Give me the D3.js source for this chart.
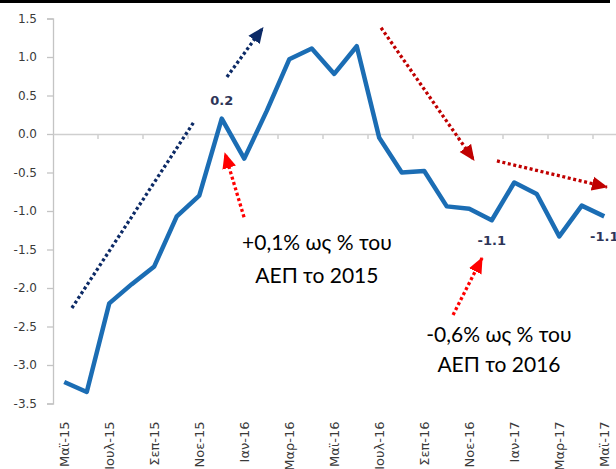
<!DOCTYPE html>
<html>
<head>
<meta charset="utf-8">
<script src="https://cdn.jsdelivr.net/npm/d3@7"></script>
<style>
  body { margin: 0; background: #fff; }
</style>
</head>
<body>
<div id="chart"></div>
<script>
// monthly categories
var months = ["Μαϊ-15","Ιουν-15","Ιουλ-15","Αυγ-15","Σεπ-15","Οκτ-15","Νοε-15","Δεκ-15",
              "Ιαν-16","Φεβ-16","Μαρ-16","Απρ-16","Μαϊ-16","Ιουν-16","Ιουλ-16","Αυγ-16",
              "Σεπ-16","Οκτ-16","Νοε-16","Δεκ-16","Ιαν-17","Φεβ-17","Μαρ-17","Απρ-17","Μαϊ-17"];

// series values (% of GDP)
var values = [-3.22,-3.35,-2.2,-1.95,-1.72,-1.07,-0.8,0.2,
              -0.32,0.3,0.97,1.11,0.78,1.14,-0.05,-0.5,
              -0.48,-0.94,-0.97,-1.12,-0.63,-0.78,-1.33,-0.93,-1.07];

// y tick values
var yTicks = [-3.5,-3.0,-2.5,-2.0,-1.5,-1.0,-0.5,0.0,0.5,1.0,1.5];

// x tick labels (every second month)
var xTickLabels = months.filter(function(d, i) { return i % 2 == 0; });

// data labels
var labelIndex = [7, 19, 24];
var labelText = ["0.2", "-1.1", "-1.1"];

var width = 616, height = 469;

var svg = d3.select("#chart")
  .append("svg")
    .attr("width", width)
    .attr("height", height)
    .style("font-family", "'DejaVu Sans', sans-serif");

// scales
var x = d3.scaleBand()
  .domain(months)
  .range([53, 615.5]);
// month index -> px, for the annotation shapes
var xi = d3.scaleLinear()
  .domain([-0.5, months.length - 0.5])
  .range([53, 615.5]);
var y = d3.scaleLinear()
  .domain([-3.5, 1.5])
  .range([403.5, 18.5]);

// top black rule
svg.append("line")
  .attr("x1", 0).attr("x2", 610)
  .attr("y1", 1.5).attr("y2", 1.5)
  .attr("stroke", "#000")
  .attr("stroke-width", 3);

// y axis
var yAxis = svg.append("g")
  .attr("transform", "translate(53,0)")
  .call(d3.axisLeft(y)
    .tickValues(yTicks)
    .tickSize(6)
    .tickPadding(10)
    .tickFormat(function(d) { return d.toFixed(1); }));
yAxis.selectAll("path, line").attr("stroke", "#c4c4c4").attr("stroke-width", 1.3);
yAxis.selectAll("text").attr("fill", "#3a3a3a").style("font-size", "12px")
  .style("font-family", "'DejaVu Sans', sans-serif");

// zero line with tick marks at category boundaries
var zeroAxis = svg.append("g")
  .attr("transform", "translate(0," + y(0) + ")")
  .call(d3.axisBottom(x)
    .tickValues(months.filter(function(d, i) { return i > 0 && i % 2 == 0; }))
    .tickSize(5)
    .tickSizeOuter(0)
    .tickFormat(""));
zeroAxis.selectAll(".tick").attr("transform", function(d) { return "translate(" + x(d) + ",0)"; });
zeroAxis.selectAll("path, line").attr("stroke", "#cfcfcf").attr("stroke-width", 1.5);

// x labels at the bottom
var xAxis = svg.append("g")
  .attr("transform", "translate(0," + y(-3.5) + ")")
  .call(d3.axisBottom(x)
    .tickValues(xTickLabels)
    .tickSize(0));
xAxis.select(".domain").remove();
xAxis.selectAll("text")
  .attr("transform", "rotate(-90)")
  .attr("text-anchor", "end")
  .attr("x", -18)
  .attr("y", 0)
  .attr("dy", "0.35em")
  .attr("fill", "#3a3a3a")
  .style("font-size", "13px")
  .style("font-family", "'DejaVu Sans', sans-serif");

// the series line
var line = d3.line()
  .x(function(d, i) { return x(months[i]) + x.bandwidth() / 2; })
  .y(function(d) { return y(d); });

svg.append("path")
  .datum(values)
  .attr("d", line)
  .attr("fill", "none")
  .attr("stroke", "#1b6db4")
  .attr("stroke-width", 4.5)
  .attr("stroke-linejoin", "round");

// data labels
svg.selectAll(".vlabel")
  .data(labelIndex)
  .enter()
  .append("text")
    .attr("class", "vlabel")
    .attr("x", function(d) { return x(months[d]) + x.bandwidth() / 2; })
    .attr("y", function(d) { return values[d] > 0 ? y(values[d]) - 14 : y(values[d]) + 25; })
    .attr("text-anchor", "middle")
    .attr("fill", "#2e3558")
    .style("font-size", "13px")
    .style("font-weight", "bold")
    .text(function(d, i) { return labelText[i]; });

// arrow heads
var defs = svg.append("defs");
[["navy", "#0c2a66"], ["red", "#ff0000"], ["dred", "#c00000"]].forEach(function(m) {
  defs.append("marker")
    .attr("id", "head-" + m[0])
    .attr("viewBox", "0 -8 16 16")
    .attr("refX", 15)
    .attr("refY", 0)
    .attr("markerUnits", "userSpaceOnUse")
    .attr("markerWidth", 16)
    .attr("markerHeight", 16)
    .attr("orient", "auto")
  .append("path")
    .attr("d", "M0,-7L16,0L0,7Z")
    .attr("fill", m[1]);
});

// dotted arrows, in month-index / value units
var arrows = [
  {from: [0.34, -2.26], to: [5.77, 0.16], color: "#0c2a66", head: null},
  {from: [7.23, 0.74], to: [8.83, 1.38], color: "#0c2a66", head: "navy"},
  {from: [7.99, -1.08], to: [7.14, -0.25], color: "#ff0000", head: "red"},
  {from: [17.28, -2.35], to: [18.57, -1.61], color: "#ff0000", head: "red"},
  {from: [14.08, 1.38], to: [18.21, -0.34], color: "#c00000", head: "dred"},
  {from: [19.23, -0.35], to: [24.12, -0.69], color: "#c00000", head: "dred"}
];

svg.selectAll(".arrow")
  .data(arrows)
  .enter()
  .append("line")
    .attr("class", "arrow")
    .attr("x1", function(d) { return xi(d.from[0]); })
    .attr("y1", function(d) { return y(d.from[1]); })
    .attr("x2", function(d) { return xi(d.to[0]); })
    .attr("y2", function(d) { return y(d.to[1]); })
    .attr("stroke", function(d) { return d.color; })
    .attr("stroke-width", 3.3)
    .attr("stroke-dasharray", "3,2.6")
    .attr("marker-end", function(d) { return d.head ? "url(#head-" + d.head + ")" : null; });

// annotation texts
var notes = [
  {at: [11.23, -1.51], text: "+0,1% ως % του"},
  {at: [11.23, -1.93], text: "ΑΕΠ το 2015"},
  {at: [19.32, -2.70], text: "-0,6% ως % του"},
  {at: [19.32, -3.09], text: "ΑΕΠ το 2016"}
];

svg.selectAll(".note")
  .data(notes)
  .enter()
  .append("text")
    .attr("class", "note")
    .attr("x", function(d) { return xi(d.at[0]); })
    .attr("y", function(d) { return y(d.at[1]); })
    .attr("text-anchor", "middle")
    .attr("fill", "#000")
    .style("font-family", "Lato, sans-serif")
    .style("font-size", "21px")
    .text(function(d) { return d.text; });
</script>
</body>
</html>
